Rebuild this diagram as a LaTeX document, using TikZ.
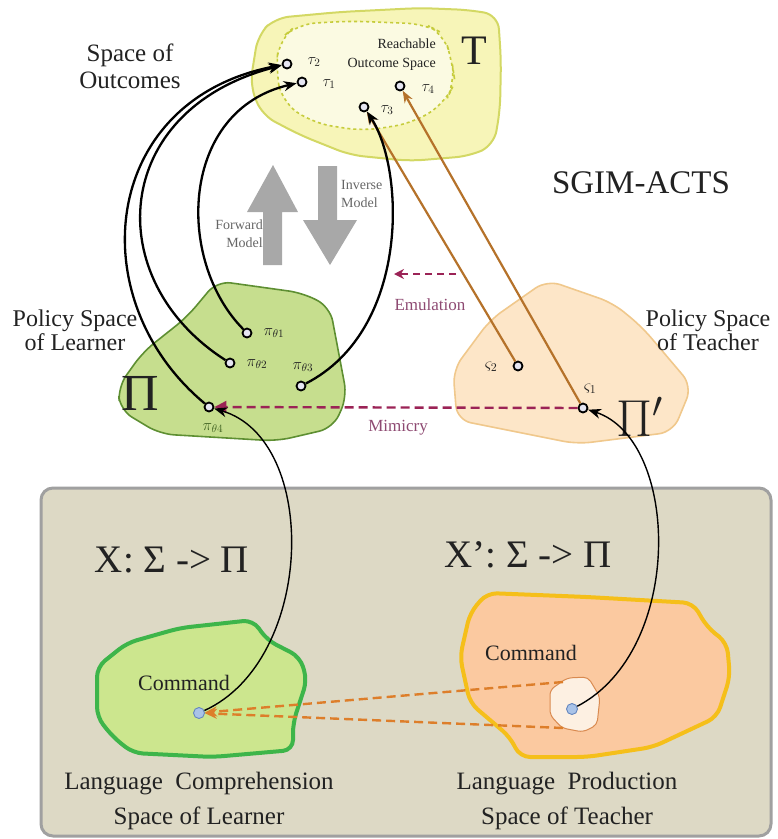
\RequirePackage{fix-cm}
\documentclass[tikz,border=0pt]{standalone}
\usepackage{fontspec}
\setmainfont{Liberation Serif}
\usetikzlibrary{arrows.meta}
\definecolor{yelfill}{HTML}{F7F5B8}
\definecolor{yelline}{HTML}{D3D864}
\definecolor{yelinner}{HTML}{FBFAE2}
\definecolor{yeldash}{HTML}{C6CC3C}
\definecolor{lpfill}{HTML}{C6DE8E}
\definecolor{lpline}{HTML}{5E8F32}
\definecolor{tpfill}{HTML}{FDE6C8}
\definecolor{tpline}{HTML}{F0C88C}
\definecolor{llfill}{HTML}{CCE68E}
\definecolor{llline}{HTML}{3DB54A}
\definecolor{tlfill}{HTML}{FBC9A0}
\definecolor{tlline}{HTML}{F5BF1A}
\definecolor{smallfill}{HTML}{FDF0E2}
\definecolor{smallline}{HTML}{D98A50}
\definecolor{brownline}{HTML}{B5722A}
\definecolor{maroon}{HTML}{9B2356}
\definecolor{maroontext}{HTML}{8E4A72}
\definecolor{grayarrow}{HTML}{A8A8A8}
\definecolor{panelfill}{HTML}{DDD9C5}
\definecolor{panelline}{HTML}{A0A0A0}
\definecolor{ptfill}{HTML}{E6E6F2}
\definecolor{cmdfill}{HTML}{A9C3E8}
\definecolor{cmdline}{HTML}{6486BE}
\definecolor{orangedash}{HTML}{DD7E2A}
\definecolor{textc}{HTML}{222222}
\newcommand\fsz[2]{\fontsize{#1}{#2}\selectfont}
\begin{document}
\begin{tikzpicture}[x=1pt,y=-1pt,
  ptnode/.style={circle, draw=black, line width=1.8pt, fill=ptfill, inner sep=0pt, minimum size=9pt},
  cmdnode/.style={circle, draw=cmdline, line width=0.9pt, fill=cmdfill, inner sep=0pt, minimum size=11pt},
  curvearr/.style={line width=2.3pt, -{Stealth[length=13pt,width=10pt]}},
  thinarr/.style={line width=1.4pt, -{Stealth[length=13pt,width=10pt]}},
  brownarr/.style={draw=brownline, line width=2.2pt, -{Stealth[length=12pt,width=9pt]}},
  orangearr/.style={draw=orangedash, line width=2.4pt, dash pattern=on 9pt off 5pt, -{Stealth[length=12pt,width=10pt]}},
  lbl/.style={text=textc, inner sep=0pt},
  blob/.style={rounded corners=14pt}
]
\useasboundingbox (0,0) rectangle (778,839);

% ---------- Outcome space ----------
\filldraw[blob, fill=yelfill, draw=yelline, line width=2pt]
  (258,35) -- (275,18) -- (340,12) -- (420,8) -- (470,10) -- (498,15) -- (501,60) -- (500,110)
  -- (494,145) -- (470,156) -- (410,161) -- (350,155) -- (300,135) -- (262,115) -- (250,85) -- cycle;
\filldraw[rounded corners=18pt, fill=yelinner, draw=yeldash, line width=1.6pt, dash pattern=on 3pt off 3pt]
  (279,40) -- (298,24) -- (350,21) -- (425,24) -- (444,34) -- (452,62) -- (455,82) -- (445,103)
  -- (413,123) -- (363,131) -- (313,123) -- (282,102) -- (276,70) -- cycle;

\node[lbl, align=center, font=\fsz{25}{27}] (outtitle) at (130,66) {Space of\\Outcomes};
\node[lbl, align=right, anchor=east, font=\fsz{14}{19}] (reach) at (436,55) {Reachable\\Outcome Space};
\node[lbl, font=\fsz{42}{42}] (bigT) at (474,51) {T};
\node[lbl, font=\fsz{33}{33}] (sgim) at (641,183) {SGIM-ACTS};

\node[ptnode] (t2) at (287,64) {};
\node[ptnode] (t1) at (302,82) {};
\node[ptnode] (t4) at (400,86) {};
\node[ptnode] (t3) at (364,107) {};
\node[lbl, font=\fsz{16}{16}] (lt2) at (314,62) {$\tau_2$};
\node[lbl, font=\fsz{16}{16}] (lt1) at (329,84) {$\tau_1$};
\node[lbl, font=\fsz{16}{16}] (lt4) at (428,89) {$\tau_4$};
\node[lbl, font=\fsz{16}{16}] (lt3) at (387,110) {$\tau_3$};

% ---------- Forward / Inverse model arrows ----------
\fill[grayarrow] (263,265) -- (263,212) -- (247,212) -- (273,165) -- (298,212) -- (282,212) -- (282,265) -- cycle;
\fill[grayarrow] (318,166) -- (318,220) -- (303,220) -- (330,265) -- (357,220) -- (337,220) -- (337,166) -- cycle;
\node[lbl, align=right, anchor=east, text=black!60, font=\fsz{14}{18}] (fwd) at (263,234) {Forward\\Model};
\node[lbl, align=left, anchor=west, text=black!60, font=\fsz{14}{18}] (inv) at (341,194) {Inverse\\Model};

% ---------- Policy space of learner ----------
\filldraw[blob, fill=lpfill, draw=lpline, line width=1.6pt]
  (118,387) -- (143,352) -- (187,317) -- (217,281) -- (303,293) -- (330,307) -- (347,397)
  -- (333,428) -- (277,441) -- (160,434) -- (120,410) -- cycle;
\node[lbl, align=center, font=\fsz{24}{24}] (polL) at (75,330) {Policy Space\\of Learner};
\node[lbl, font=\fsz{52}{52}] (bigPi) at (140,393) {Π};

\node[ptnode] (p1) at (247,333) {};
\node[ptnode] (p2) at (230,363) {};
\node[ptnode] (p3) at (301,386) {};
\node[ptnode] (p4) at (209,407) {};
\node[lbl, font=\fsz{16}{16}] (lp1) at (274,333) {$\pi_{\theta 1}$};
\node[lbl, font=\fsz{16}{16}] (lp2) at (257,364) {$\pi_{\theta 2}$};
\node[lbl, font=\fsz{16}{16}] (lp3) at (303,367) {$\pi_{\theta 3}$};
\node[lbl, font=\fsz{16}{16}, text=lpline!70!black] (lp4) at (213,428) {$\pi_{\theta 4}$};

% ---------- Policy space of teacher ----------
\filldraw[blob, fill=tpfill, draw=tpline, line width=1.6pt]
  (457,420) -- (453,370) -- (490,320) -- (547,280) -- (613,303) -- (642,327) -- (692,386)
  -- (673,432) -- (577,444) -- cycle;
\node[lbl, align=center, font=\fsz{24}{24}] (polT) at (708,330) {Policy Space\\of Teacher};
\node[lbl, font=\fsz{52}{52}] (bigPiP) at (640,417) {$\Pi'$};

\node[ptnode] (z2) at (518,366) {};
\node[ptnode] (z1) at (583,408) {};
\node[lbl, font=\fsz{17}{17}] (lz2) at (491,367) {$\varsigma_2$};
\node[lbl, font=\fsz{17}{17}] (lz1) at (590,389) {$\varsigma_1$};

% ---------- Emulation / Mimicry ----------
\coordinate (emuS) at (456,274);
\coordinate (emuE) at (394,274);
\draw[maroon, line width=2.4pt, dash pattern=on 7pt off 5pt, -{Stealth[length=10pt,width=10pt]}] (emuS) -- (emuE);
\node[lbl, text=maroontext, font=\fsz{17}{17}] (emu) at (430,305) {Emulation};
\draw[maroon, line width=2.4pt, dash pattern=on 9pt off 5pt, -{Triangle[length=12pt,width=12pt]}] (z1) -- (p4);
\node[lbl, text=maroontext, font=\fsz{17}{17}] (mim) at (398,428) {Mimicry};

% ---------- Brown lines teacher -> outcomes ----------
\draw[brownarr] (z2) -- (t3);
\draw[brownarr] (z1) -- (t4);

% ---------- Black curves learner -> outcomes ----------
\draw[curvearr] (p1) .. controls (175,260) and (180,110) .. (t1);
\draw[curvearr] (p2) .. controls (100,280) and (110,110) .. (t2);
\draw[curvearr] (p4) .. controls (80,300) and (100,100) .. (t2);
\draw[curvearr] (p3) .. controls (410,330) and (405,170) .. (t3);

% ---------- Bottom panel ----------
\filldraw[rounded corners=12pt, fill=panelfill, draw=panelline, line width=3pt] (41,488) rectangle (771,836);

\node[lbl, font=\fsz{39}{39}] (xmap) at (172,560) {X: Σ -> Π};
\node[lbl, font=\fsz{39}{39}] (xpmap) at (528,555) {X’: Σ -> Π};

\filldraw[rounded corners=10pt, fill=llfill, draw=llline, line width=4pt]
  (97,667) -- (127,643) -- (180,628) -- (253,620) -- (267,640) -- (300,657) -- (307,680)
  -- (293,723) -- (293,750) -- (213,757) -- (133,753) -- (113,737) -- (97,717) -- cycle;
\filldraw[rounded corners=10pt, fill=tlfill, draw=tlline, line width=4pt]
  (487,593) -- (587,597) -- (693,603) -- (707,627) -- (727,643) -- (730,677) -- (717,717)
  -- (653,747) -- (587,757) -- (520,757) -- (510,737) -- (470,703) -- (460,657) -- (470,613) -- cycle;
\filldraw[rounded corners=5pt, fill=smallfill, draw=smallline, line width=1pt]
  (550,690) -- (567,678) -- (588,677) -- (600,697) -- (597,725) -- (583,732) -- (562,728) -- (550,715) -- cycle;

\node[lbl, font=\fsz{22}{22}] (cmdL) at (184,683) {Command};
\node[lbl, font=\fsz{22}{22}] (cmdT) at (531,653) {Command};
\node[cmdnode] (cL) at (199,713) {};
\node[cmdnode] (cT) at (572,709) {};

\coordinate (dashA) at (563,682);
\coordinate (dashB) at (563,728);
\draw[orangearr] (dashA) -- (cL);
\draw[orangearr] (dashB) -- (cL);

\draw[thinarr] (cL) .. controls (315,660) and (320,440) .. (p4);
\draw[thinarr] (cT) .. controls (685,650) and (680,440) .. (z1);

\node[lbl, align=center, font=\fsz{25}{35}] (langL) at (199,801) {Language~~Comprehension\\Space of Learner};
\node[lbl, align=center, font=\fsz{25}{35}] (langT) at (567,801) {Language~~Production\\Space of Teacher};
\end{tikzpicture}
\end{document}
